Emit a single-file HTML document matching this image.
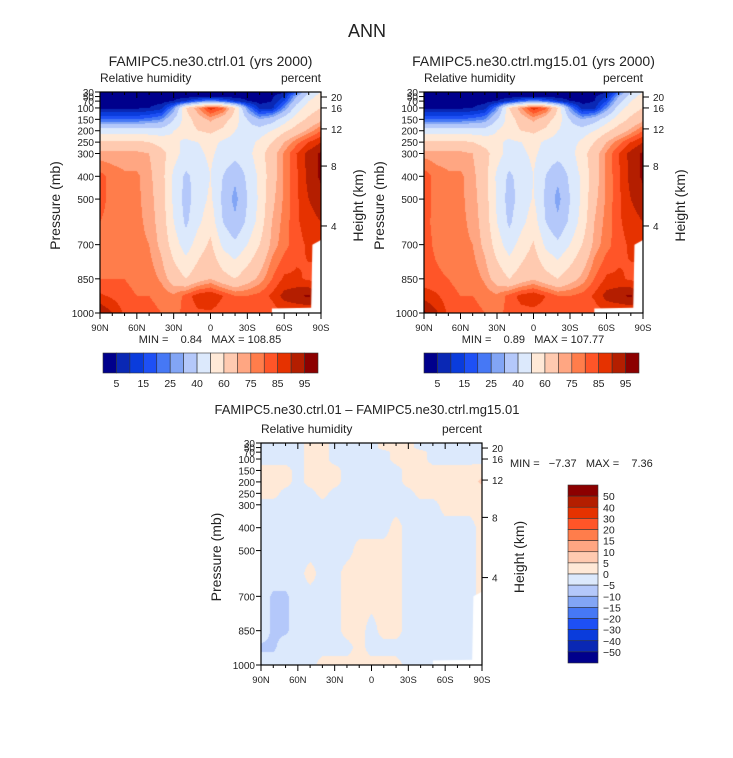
<!DOCTYPE html>
<html><head><meta charset="utf-8">
<style>
html,body{margin:0;padding:0;background:#fff;}
#root{position:relative;width:733px;height:758px;overflow:hidden;font-family:"Liberation Sans",sans-serif;}
canvas{position:absolute;}
svg{position:absolute;left:0;top:0;}
text{white-space:pre;}
</style></head>
<body>
<div id="root">
<canvas id="cA" style="left:100px;top:92px" width="221" height="221"></canvas>
<canvas id="cB" style="left:424px;top:92px" width="219" height="221"></canvas>
<canvas id="cD" style="left:261px;top:443px" width="221" height="222"></canvas>
<svg id="ov" width="733" height="758"></svg>
</div>
<script>
const lats=[90,80,70,60,50,40,30,20,10,0,-10,-20,-30,-40,-50,-60,-70,-80,-90];
const plevs=[30,50,70,100,150,200,250,300,400,500,600,700,850,925,1000];
const rhA=[
[2,2,2,2,2,2,2,2,2,2,2,2,2,2,2,4,20,40,50],
[3,3,3,3,3,3,3,3,3,3,3,3,3,3,4,10,30,45,55],
[3,3,3,3,3,3,5,10,20,25,20,10,5,3,5,15,35,50,58],
[4,4,4,4,5,8,25,60,75,88,82,60,25,8,8,25,45,55,60],
[20,20,20,20,22,25,40,55,65,72,65,55,40,30,35,45,55,62,68],
[45,45,45,45,45,45,50,55,60,62,58,50,45,45,50,58,65,72,80],
[62,62,62,62,60,56,52,48,50,54,48,46,46,52,60,70,78,85,90],
[72,72,72,72,70,64,54,46,48,52,46,44,46,56,66,76,85,92,96],
[82,78,76,76,72,64,48,38,44,50,40,32,42,52,66,76,84,92,96],
[82,78,76,76,73,65,48,36,45,52,38,27,40,52,68,76,84,90,93],
[80,78,77,76,74,66,50,38,48,56,40,32,42,54,70,77,84,88,90],
[80,78,77,76,75,68,55,45,55,62,48,42,50,60,72,78,83,86,88],
[80,80,80,78,78,74,66,60,66,70,64,60,66,72,80,86,86,84,82],
[86,84,82,80,80,78,76,82,88,90,85,80,80,82,86,92,94,96,90],
[95,90,84,82,82,80,78,82,84,84,82,80,80,82,82,85,85,85,85]];
const rhB=[
[2,2,2,2,2,2,2,2,2,2,2,2,2,2,2,4,20,40,50],
[3,3,3,3,3,3,3,3,3,3,3,3,3,3,4,10,30,45,55],
[3,3,3,3,3,3,5,10,20,25,20,10,5,3,5,15,35,50,58],
[4,4,4,4,5,8,25,60,75,88,82,60,25,8,8,25,45,55,60],
[20,20,20,20,22,25,40,55,65,72,65,55,40,30,35,45,55,62,68],
[45,45,45,45,45,45,50,55,60,62,58,50,45,45,50,58,65,72,80],
[62,62,62,62,60,56,52,48,50,54,48,46,46,52,60,70,78,85,90],
[73,72,72,72,70,64,54,46,48,52,46,44,46,56,66,76,85,92,96],
[83,78,76,76,72,64,48,38,44,50,40,32,42,52,66,76,84,92,96],
[83,78,76,76,73,65,48,36,44,51,38,27,40,52,68,76,84,90,93],
[81,79,77,76,74,66,50,38,47,55,40,32,42,54,70,77,84,88,90],
[82,79,77,76,75,68,55,45,54,61,48,42,50,60,72,78,83,86,88],
[82,81,80,78,78,74,66,60,65,69,64,60,66,72,80,86,86,84,82],
[88,86,82,80,80,78,76,82,87,89,85,80,80,82,86,92,94,96,90],
[96,91,84,82,82,80,78,82,83,83,82,80,80,82,82,85,85,85,85]];
const diffV=[
[-2,-2,-2,-2,2,2,-2,-2,-2,-2,2,2,2,-2,-2,-2,-2,-2,-2],
[-2,-2,-2,-2,2,2,-2,-2,-2,-2,2,2,2,-2,-2,-2,-2,-2,-2],
[-2,-2,-2,-2,2,2,-2,-2,-2,-2,-2,2,2,2,-2,-2,-2,-2,-2],
[-2,-2,-2,-2,2,2,-2,-2,-2,-2,-2,2,2,2,-2,-2,-2,-2,-2],
[2,2,2,-2,2,2,2,-2,-2,-2,-2,-2,2,2,2,2,2,2,3],
[2,2,2,-2,2,2,2,-2,-2,-2,-2,-2,2,2,2,2,2,3,6],
[2,2,-2,-2,-2,2,-2,-2,-2,-2,-2,-2,-2,2,2,2,2,2,2],
[-2,-2,-2,-2,-2,-2,-2,-2,-2,-2,-2,-2,-2,-2,-2,2,2,2,2],
[-2,-2,-2,-2,-2,-2,-2,-2,-2,-2,-2,2,-2,-2,-2,-2,-2,-2,2],
[-2,-2,-2,-2,-2,-2,-2,-2,2,2,2,2,-2,-2,-2,-2,-2,-2,2],
[-2,-2,-2,-2,2,-2,-2,2,2,2,2,2,-2,-2,-2,-2,-2,-2,2],
[-2,-6,-6,-2,-2,-2,-2,2,2,2,2,2,-2,-2,-2,-2,-2,-2,2],
[-2,-6,-6,-2,-2,-2,-2,2,2,-2,2,2,-2,-2,-2,-2,-2,-2,2],
[-6,-6,-2,-2,-2,-2,-2,-2,2,-2,-2,-2,-2,-2,-2,-2,-2,-2,2],
[-2,-2,-2,-2,-2,2,2,2,2,2,2,2,-2,-2,-2,-2,-2,-2,-2]];
const rhLevels=[5,10,15,20,25,30,40,50,60,70,75,80,85,90,95];
const rhLabels=["5","15","25","40","60","75","85","95"];
const dLevels=[-50,-40,-30,-20,-15,-10,-5,0,5,10,15,20,30,40,50];
const dLabels=["50","40","30","20","15","10","5","0","\u22125","\u221210","\u221215","\u221220","\u221230","\u221240","\u221250"];
const colors=["#00008c","#0a28b4","#0a3cdc","#1e50f5","#4678f5","#82a5f5","#b4c8fa","#dce9fc","#ffe9d7","#ffcab0","#ffa682","#ff7d4b","#ff5528","#e63200","#b41e00","#8c0000"];
const pTicks=[30,50,70,100,150,200,250,300,400,500,700,850,1000];
const latTicks=[90,60,30,0,-30,-60,-90];
const latTickLabels=["90N","60N","30N","0","30S","60S","90S"];
const hTicks=["20","16","12","8","4"];
const hTickP=[52,100,192,355,618];
const groundMask=[[-50,1000],[-50,980],[-82,977],[-83,700],[-90,680],[-90,1000]];

function interp(g,lat,p){
  let fi=(90-lat)/10; let i=Math.min(17,Math.floor(fi)); let ti=fi-i;
  let j=0; while(j<plevs.length-2 && p>plevs[j+1]) j++;
  let tj=(p-plevs[j])/(plevs[j+1]-plevs[j]);
  const a=g[j][i],b=g[j][i+1],c=g[j+1][i],d=g[j+1][i+1];
  return (a*(1-ti)+b*ti)*(1-tj)+(c*(1-ti)+d*ti)*tj;
}
function hex(h){return [parseInt(h.slice(1,3),16),parseInt(h.slice(3,5),16),parseInt(h.slice(5,7),16)];}
const rgb=colors.map(hex);
function drawField(id,g,levels,mask){
  const cv=document.getElementById(id),ctx=cv.getContext('2d');
  const W=cv.width,H=cv.height,img=ctx.createImageData(W,H);
  for(let y=0;y<H;y++)for(let x=0;x<W;x++){
    const lat=90-180*(x+0.5)/W,p=30+970*(y+0.5)/H;
    const v=interp(g,lat,p);let k=0;while(k<levels.length&&v>=levels[k])k++;
    const c=rgb[k],o=(y*W+x)*4;img.data[o]=c[0];img.data[o+1]=c[1];img.data[o+2]=c[2];img.data[o+3]=255;
  }
  ctx.putImageData(img,0,0);
  ctx.fillStyle="#fff";ctx.beginPath();
  mask.forEach((m,n)=>{const x=(90-m[0])/180*W,y=(m[1]-30)/970*H;n?ctx.lineTo(x,y):ctx.moveTo(x,y);});
  ctx.closePath();ctx.fill();
}
drawField('cA',rhA,rhLevels,groundMask);
drawField('cB',rhB,rhLevels,groundMask);
drawField('cD',diffV,dLevels,groundMask);

const NS="http://www.w3.org/2000/svg",ov=document.getElementById('ov');
function el(tag,attrs,txt){const e=document.createElementNS(NS,tag);for(const k in attrs)e.setAttribute(k,attrs[k]);if(txt!==undefined)e.textContent=txt;ov.appendChild(e);return e;}
function text(x,y,s,size,anchor,name,extra){
  const t=el('text',Object.assign({x:x,y:y,'font-size':size,'text-anchor':anchor||'start',fill:'#222','font-family':'Liberation Sans, sans-serif'},extra||{}),s);
  
  
  return t;
}
text(367,37,"ANN",18,"middle","figure-title");

function axes(x0,y0,W,H,title){
  const sx=lat=>x0+(90-lat)/180*W, sy=p=>y0+(p-30)/970*H;
  const fr=el('rect',{x:x0,y:y0,width:W,height:H,fill:'none',stroke:'#000','stroke-width':1.2});
  
  
  text(x0+W/2,y0-26,title,14,"middle","panel-title");
  text(x0,y0-10,"Relative humidity",12,"start","variable-label");
  text(x0+W,y0-10,"percent",12,"end","units-label");
  for(let lat=90;lat>=-90;lat-=10){
    const major=lat%30===0,L=major?6:3;
    el('line',{x1:sx(lat),x2:sx(lat),y1:y0+H,y2:y0+H+L,stroke:'#000'});
    el('line',{x1:sx(lat),x2:sx(lat),y1:y0,y2:y0+L,stroke:'#000'});
  }
  latTicks.forEach((lat,i)=>{text(sx(lat),y0+H+18,latTickLabels[i],9.5,"middle","x-tick-label");});
  pTicks.forEach(p=>{el('line',{x1:x0-5,x2:x0,y1:sy(p),y2:sy(p),stroke:'#000'});
    text(x0-6,sy(p)+4,String(p),10,"end","y-tick-label");});
  hTickP.forEach((p,i)=>{el('line',{x1:x0+W,x2:x0+W+6,y1:sy(p),y2:sy(p),stroke:'#000'});
    text(x0+W+10,sy(p)+4,hTicks[i],10,"start","height-tick-label");});
  text(0,0,"Pressure (mb)",14,"middle","y-axis-title",{transform:`translate(${x0-40},${y0+H/2+3}) rotate(-90)`});
  text(0,0,"Height (km)",14,"middle","right-axis-title",{transform:`translate(${x0+W+42},${y0+H/2+3}) rotate(-90)`});
}
axes(100,92,221,221,"FAMIPC5.ne30.ctrl.01 (yrs 2000)");
axes(424,92,219,221,"FAMIPC5.ne30.ctrl.mg15.01 (yrs 2000)");
axes(261,443,221,222,"");
text(367,414,"FAMIPC5.ne30.ctrl.01 \u2013 FAMIPC5.ne30.ctrl.mg15.01",13,"middle","diff-title");
text(210,343,"MIN =    0.84   MAX = 108.85",11,"middle","min-max-ctrl");
text(533,343,"MIN =    0.89   MAX = 107.77",11,"middle","min-max-mg15");
text(510,467,"MIN =   \u22127.37   MAX =    7.36",11,"start","min-max-diff");

function hbar(x0,y0,W,H){
  const bw=W/16;
  for(let k=0;k<16;k++){const r=el('rect',{x:x0+k*bw,y:y0,width:bw,height:H,fill:colors[k],stroke:'#333','stroke-width':0.6});
    }
  rhLabels.forEach((s,i)=>text(x0+(2*i+1)*bw,y0+H+14,s,10.5,"middle","colorbar-label"));
}
hbar(103,353,215,20);
hbar(424,353,215,20);
(function(){
  const x0=568,y0=485,W=30,H=178,bh=H/16;
  for(let k=0;k<16;k++){const r=el('rect',{x:x0,y:y0+k*bh,width:W,height:bh,fill:colors[15-k],stroke:'#333','stroke-width':0.6});
    }
  dLabels.forEach((s,i)=>text(x0+W+5,y0+(i+1)*bh+4,s,10.5,"start","diff-colorbar-label"));
})();
</script>
</body></html>
